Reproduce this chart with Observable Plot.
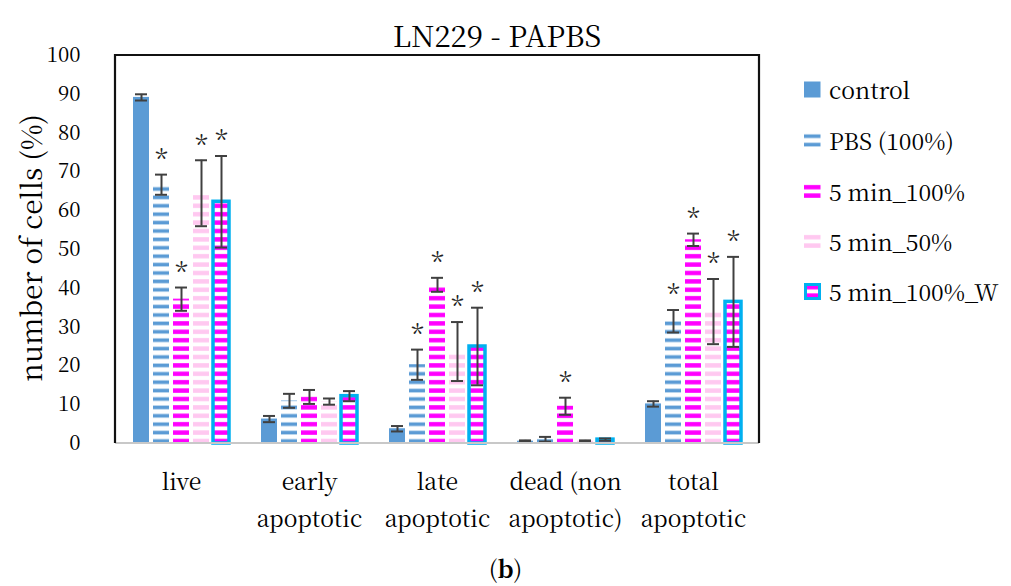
<!DOCTYPE html>
<html><head><meta charset="utf-8">
<script src="https://cdn.jsdelivr.net/npm/d3@7"></script>
<script src="https://cdn.jsdelivr.net/npm/@observablehq/plot@0.6"></script>
<style>
body{margin:0;background:#fff;color:#000}
#wrap{position:relative;width:1011px;height:586px;overflow:hidden;background:#fff}
#chart{position:absolute;left:0;top:0}
.abs{position:absolute;white-space:nowrap;line-height:1}
#title{left:0;width:994px;text-align:center;top:20px;font-size:29.5px}
#ylab{left:30px;top:248px;font-size:28px;transform:translate(-50%,-50%) rotate(-90deg)}
#caption{left:0;width:1011px;text-align:center;top:556px;font-size:24px}
.leg{left:804px;font-size:23px;display:flex;align-items:center}
.leg svg{margin-right:8px}
</style></head><body>
<svg width="0" height="0" style="position:absolute">
<defs>
<pattern id="p-pbs" patternUnits="userSpaceOnUse" width="10" height="8.4"><rect width="10" height="8.4" fill="#fff"/><rect y="2.4" width="10" height="3.6" fill="#5B9BD5"/></pattern>
<pattern id="p-m100" patternUnits="userSpaceOnUse" width="10" height="8.4"><rect width="10" height="8.4" fill="#fff"/><rect y="2" width="10" height="4.4" fill="#FF00FF"/></pattern>
<pattern id="p-m50" patternUnits="userSpaceOnUse" width="10" height="8.4"><rect width="10" height="8.4" fill="#fff"/><rect y="2" width="10" height="4.4" fill="#FFC8F0"/></pattern>
<pattern id="p-w" patternUnits="userSpaceOnUse" width="10" height="8.4"><rect width="10" height="8.4" fill="#fff"/><rect y="2" width="10" height="4.4" fill="#FF00FF"/></pattern>
</defs>
</svg>
<div id="wrap">
<div id="chart"></div>
<div id="title" class="abs" style="font-family:'Noto Serif CJK SC'">LN229 - PAPBS</div>
<div id="ylab" class="abs" style="font-family:'Noto Serif CJK SC'">number of cells (%)</div>
<div id="legend"></div>
<div id="caption" class="abs" style="font-family:'Noto Serif CJK SC'">(<b>b</b>)</div>
</div>
<script>
const categories = ["live", "early apoptotic", "late apoptotic", "dead (non apoptotic)", "total apoptotic"];
const categoryLabels = ["live", "early\napoptotic", "late\napoptotic", "dead (non\napoptotic)", "total\napoptotic"];
const series = ["control", "PBS (100%)", "5 min_100%", "5 min_50%", "5 min_100%_W"];
const yTicks = [0, 10, 20, 30, 40, 50, 60, 70, 80, 90, 100];

const controlValues = [89.2, 6.3, 3.8, 0.6, 10.2];
const pbsValues = [66.7, 11.0, 20.3, 1.1, 31.5];
const min100Values = [37.2, 12.0, 40.9, 9.6, 52.5];
const min50Values = [64.5, 10.8, 23.7, 0.6, 34.0];
const min100WValues = [62.3, 12.2, 25.0, 1.0, 36.5];

const controlErrors = [0.8, 0.8, 0.7, 0.2, 0.7];
const pbsErrors = [2.6, 1.8, 3.9, 0.6, 2.9];
const min100Errors = [3.0, 1.8, 1.8, 2.2, 1.6];
const min50Errors = [8.5, 0.8, 7.6, 0.2, 8.4];
const min100WErrors = [11.8, 1.3, 10.0, 0.3, 11.6];

// significance marks (*) per series, per category
const controlSig = [0, 0, 0, 0, 0];
const pbsSig = [1, 0, 1, 0, 1];
const min100Sig = [1, 0, 1, 1, 1];
const min50Sig = [1, 0, 1, 0, 1];
const min100WSig = [1, 0, 1, 0, 1];

const seriesFills = ["#5B9BD5", "url(#p-pbs)", "url(#p-m100)", "url(#p-m50)", "url(#p-w)"];
const borderColor = "#00B0F0";
const errColor = "#404040";
const serif = "Noto Serif CJK SC";

const valuesBySeries = [controlValues, pbsValues, min100Values, min50Values, min100WValues];
const errorsBySeries = [controlErrors, pbsErrors, min100Errors, min50Errors, min100WErrors];
const sigBySeries = [controlSig, pbsSig, min100Sig, min50Sig, min100WSig];

const rows = [];
categories.forEach((c, i) => series.forEach((s, j) => rows.push({
  cat: c, series: s, value: valuesBySeries[j][i], err: errorsBySeries[j][i], sig: sigBySeries[j][i] === 1
})));

const W = 1011, H = 540, mL = 115, mR = 252, mT = 55, mB = 97;
const plot = Plot.plot({
  width: W, height: H,
  marginLeft: mL, marginRight: mR, marginTop: mT, marginBottom: mB,
  style: {background: "transparent", color: "#000"},
  fx: {domain: categories, paddingInner: 0.25, paddingOuter: 0.125, label: null},
  x: {domain: series, paddingInner: 0.2, paddingOuter: 0, axis: null},
  y: {domain: [0, 100], label: null},
  color: {domain: series, range: seriesFills},
  marks: [
    Plot.axisY({ticks: yTicks, tickSize: 0, tickPadding: 34, dx: -19, fontSize: 20.5, fontFamily: serif, label: null}),
    Plot.axisFx({anchor: "bottom", tickSize: 0, tickPadding: 20, fontSize: 23, fontFamily: serif, lineHeight: 1.62, label: null,
      tickFormat: c => categoryLabels[categories.indexOf(c)]}),
    Plot.barY(rows, {fx: "cat", x: "series", y: "value", fill: "series"}),
    Plot.barY(rows.filter(d => d.series === series[4]), {fx: "cat", x: "series", y: "value", fill: "none", stroke: borderColor, strokeWidth: 3.5}),
    Plot.ruleX(rows, {fx: "cat", x: "series", y1: d => Math.max(0, d.value - d.err), y2: d => d.value + d.err, stroke: errColor, strokeWidth: 2}),
    Plot.tickY(rows, {fx: "cat", x: "series", y: d => d.value + d.err, stroke: errColor, strokeWidth: 2, insetLeft: 2, insetRight: 2}),
    Plot.tickY(rows, {fx: "cat", x: "series", y: d => Math.max(0, d.value - d.err), stroke: errColor, strokeWidth: 2, insetLeft: 2, insetRight: 2}),
    Plot.text(rows.filter(d => d.sig), {fx: "cat", x: "series", y: d => d.value + d.err, text: () => "*", dy: -14, fontSize: 26, fontFamily: serif, fill: "#222"})
  ]
});
document.getElementById("chart").appendChild(plot);

// frame (left, top, right) and baseline across the whole plot area
const ys = plot.scale("y");
const svg = d3.select(plot);
const y0 = ys.apply(0), y100 = ys.apply(100);
svg.append("line").attr("x1", mL).attr("x2", W - mR).attr("y1", y0).attr("y2", y0)
  .attr("stroke", "#c8c8c8").attr("stroke-width", 2);
svg.append("path").attr("d", `M${mL},${y0}V${y100}H${W - mR}V${y0}`)
  .attr("fill", "none").attr("stroke", "#111").attr("stroke-width", 2.2);

// legend
const legCenters = [90, 141, 192, 242, 292];
const leg = document.getElementById("legend");
series.forEach((s, j) => {
  const div = document.createElement("div");
  div.className = "abs leg";
  div.style.top = (legCenters[j] - 14) + "px";
  div.style.height = "26px";
  div.style.fontFamily = serif;
  const sw = j === 4
    ? `<svg width="17" height="17"><rect x="1.5" y="1.5" width="14" height="14" fill="${seriesFills[j]}" stroke="${borderColor}" stroke-width="3"/></svg>`
    : `<svg width="17" height="17"><rect x="0" y="0.5" width="16.5" height="16" fill="${seriesFills[j]}"/></svg>`;
  div.innerHTML = sw + `<span>${s}</span>`;
  leg.appendChild(div);
});
</script>
</body></html>
